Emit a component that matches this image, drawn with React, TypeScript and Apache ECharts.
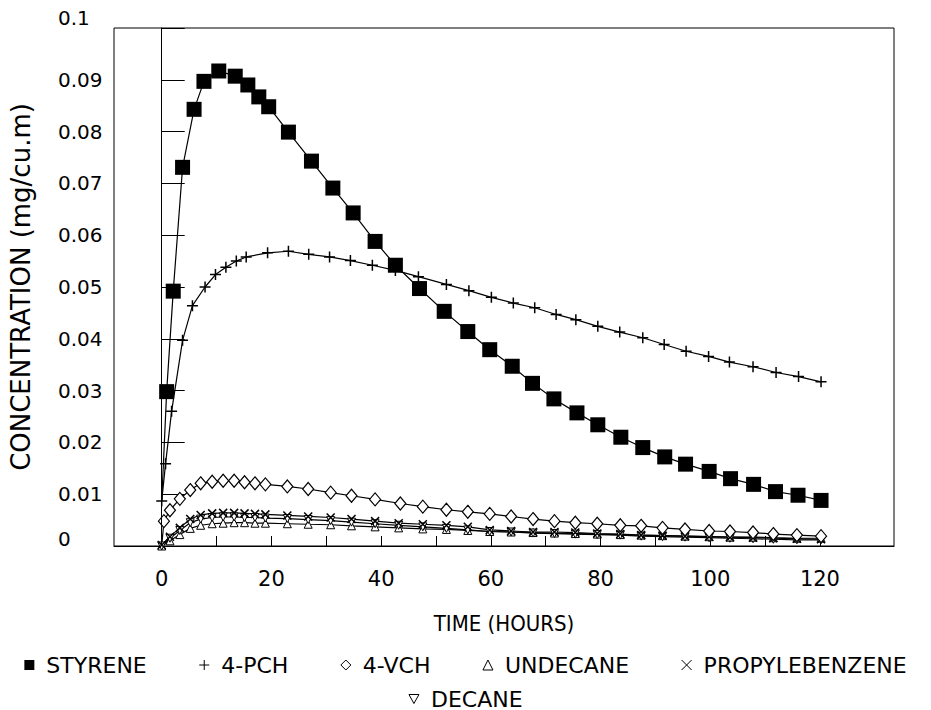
import React, { useEffect, useRef } from "react";
import * as echarts from "echarts";

// ---- data (hours, mg/cu.m) ----
const T_STYRENE = [0, 0.9, 2.1, 3.8, 5.9, 7.7, 10.4, 13.4, 15.7, 17.7, 19.5, 23.1, 27.3, 31.2, 34.9, 38.9, 42.6, 47.0, 51.5, 55.8, 59.8, 63.9, 67.6, 71.5, 75.7, 79.5, 83.7, 87.7, 91.7, 95.5, 99.8, 103.7, 107.9, 111.9, 116.0, 120.2];
const STYRENE = [0.0087, 0.0298, 0.0492, 0.0731, 0.0843, 0.0897, 0.0917, 0.0907, 0.089, 0.0867, 0.0848, 0.0799, 0.0743, 0.0691, 0.0643, 0.0588, 0.0542, 0.0497, 0.0453, 0.0414, 0.0379, 0.0347, 0.0314, 0.0284, 0.0257, 0.0234, 0.021, 0.019, 0.0172, 0.0158, 0.0144, 0.013, 0.0119, 0.0105, 0.0098, 0.0088];

const T_PCH = [0, 0.7, 1.8, 3.8, 5.6, 7.9, 9.8, 11.7, 13.6, 15.4, 19.3, 23.1, 26.8, 30.6, 34.4, 38.4, 42.6, 46.8, 51.9, 56.0, 60.1, 64.1, 68.0, 71.9, 75.5, 79.5, 83.5, 87.7, 91.6, 95.6, 99.7, 103.5, 107.8, 112.0, 116.1, 120.2];
const PCH = [0.0087, 0.0159, 0.026, 0.0397, 0.0464, 0.05, 0.0524, 0.0538, 0.055, 0.0558, 0.0566, 0.0569, 0.0563, 0.0558, 0.0551, 0.0542, 0.0532, 0.052, 0.0505, 0.0493, 0.048, 0.0469, 0.046, 0.0447, 0.0437, 0.0424, 0.0413, 0.0402, 0.0389, 0.0376, 0.0366, 0.0355, 0.0346, 0.0335, 0.0327, 0.0317];

const T_VCH = [0, 0.4, 1.5, 3.3, 5.2, 7.1, 9.2, 11.2, 13.2, 15.1, 17.0, 18.9, 22.9, 26.7, 30.8, 34.6, 38.9, 43.5, 47.6, 51.9, 55.8, 59.8, 63.7, 67.7, 71.6, 75.4, 79.4, 83.6, 87.4, 91.3, 95.4, 99.8, 103.6, 107.8, 111.5, 115.8, 120.2];
const VCH = [0, 0.0048, 0.0069, 0.0091, 0.0108, 0.0121, 0.0124, 0.0126, 0.0126, 0.0123, 0.0121, 0.0119, 0.0115, 0.011, 0.0103, 0.0097, 0.009, 0.0082, 0.0076, 0.007, 0.0066, 0.0062, 0.0057, 0.0052, 0.0048, 0.0045, 0.0043, 0.004, 0.0039, 0.0035, 0.0032, 0.0029, 0.0028, 0.0026, 0.0023, 0.0021, 0.0019];

const T_SMALL = [0, 1.5, 3.3, 5.2, 7.1, 9.2, 11.2, 13.2, 15.1, 17.0, 18.9, 22.9, 26.7, 30.8, 34.6, 38.9, 43.2, 47.6, 51.9, 55.8, 59.8, 63.7, 67.7, 71.6, 75.4, 79.4, 83.6, 87.4, 91.3, 95.4, 99.8, 103.6, 107.8, 111.5, 115.8, 120.2];
const PROPYLEBENZENE = [0.0002, 0.0018, 0.0035, 0.0052, 0.006, 0.0063, 0.0064, 0.0064, 0.0063, 0.0062, 0.0061, 0.0059, 0.0057, 0.0055, 0.0052, 0.0048, 0.0044, 0.0042, 0.004, 0.0037, 0.0031, 0.0029, 0.0027, 0.0027, 0.0026, 0.0024, 0.0023, 0.0021, 0.002, 0.0019, 0.0018, 0.0017, 0.0016, 0.0015, 0.0014, 0.0013];
const DECANE = [0, 0.0015, 0.003, 0.0045, 0.0052, 0.0055, 0.0056, 0.0056, 0.0055, 0.0055, 0.0054, 0.0053, 0.0051, 0.0049, 0.0046, 0.0043, 0.004, 0.0037, 0.0034, 0.0031, 0.0028, 0.0027, 0.0025, 0.0024, 0.0023, 0.0022, 0.0021, 0.0019, 0.0018, 0.0017, 0.0016, 0.0015, 0.0014, 0.0013, 0.0012, 0.0012];
const UNDECANE = [0, 0.001, 0.0022, 0.0034, 0.004, 0.0043, 0.0044, 0.0045, 0.0045, 0.0044, 0.0044, 0.0043, 0.0042, 0.0041, 0.0039, 0.0037, 0.0035, 0.0033, 0.0032, 0.003, 0.0028, 0.0027, 0.0026, 0.0025, 0.0024, 0.0023, 0.0022, 0.0021, 0.002, 0.0019, 0.0018, 0.0017, 0.0017, 0.0016, 0.0015, 0.0015];

const X_TICKS = [10, 20, 30, 40, 50, 60, 70, 80, 90, 100, 110, 120];
const X_LABELS = [0, 20, 40, 60, 80, 100, 120];

const LEGEND_ROW1 = ["STYRENE", "4-PCH", "4-VCH", "UNDECANE", "PROPYLEBENZENE"];
const LEGEND_ROW2 = ["DECANE"];

const PLUS = "path://M5,0L5,10M0,5L10,5";
const CROSS = "path://M0,0L10,10M10,0L0,10";

const NUM_FONT = "'DejaVu Sans', 'Liberation Sans', sans-serif";
const PLOT_FONT = "'DejaVu Sans Condensed', 'Liberation Sans Narrow', 'DejaVu Sans', sans-serif";
const LEGEND_FONT = "'DejaVu Sans', 'Liberation Sans', sans-serif";

function pairs(t: number[], v: number[]) {
  return t.map((x, i) => [x, v[i]]);
}

export default function App() {
  const ref = useRef<HTMLDivElement>(null);

  useEffect(() => {
    if (!ref.current) return;
    const chart = echarts.init(ref.current, undefined, { renderer: "svg" });

    const baseLine = { color: "#000", width: 1.2 };

    const legendItems: Record<string, any> = {
      STYRENE: { name: "STYRENE", icon: "rect", itemStyle: { color: "#000", borderWidth: 0 } },
      "4-PCH": { name: "4-PCH", icon: PLUS, itemStyle: { color: "transparent", borderColor: "#000", borderWidth: 1 } },
      "4-VCH": { name: "4-VCH", icon: "diamond", itemStyle: { color: "#fff", borderColor: "#000", borderWidth: 1 } },
      UNDECANE: { name: "UNDECANE", icon: "triangle", itemStyle: { color: "#fff", borderColor: "#000", borderWidth: 1 } },
      PROPYLEBENZENE: { name: "PROPYLEBENZENE", icon: CROSS, itemStyle: { color: "transparent", borderColor: "#000", borderWidth: 1 } },
      DECANE: { name: "DECANE", icon: "path://M0,0L10,0L5,9Z", itemStyle: { color: "#fff", borderColor: "#000", borderWidth: 1 } },
    };

    const legendCommon = {
      left: "center",
      orient: "horizontal",
      itemWidth: 10,
      itemHeight: 10,
      itemGap: 52,
      selectedMode: false,
      textStyle: { fontFamily: LEGEND_FONT, fontSize: 22, color: "#000", padding: [0, 0, 0, 7] },
    };

    const labelRich = {
      hi: { fontSize: 20, fontFamily: NUM_FONT, color: "#000", padding: [0, 0, 20, 0] },
      lo: { fontSize: 20, fontFamily: NUM_FONT, color: "#000", padding: [0, 0, 14, 0] },
    };

    const option: any = {
      animation: false,
      backgroundColor: "#fff",
      grid: { left: 113, right: 37, top: 28, bottom: 164, show: true, borderColor: "#000", borderWidth: 1, backgroundColor: "transparent" },
      legend: [
        { ...legendCommon, top: 649, data: LEGEND_ROW1.map((n) => legendItems[n]) },
        { ...legendCommon, top: 683, data: LEGEND_ROW2.map((n) => legendItems[n]) },
      ],
      xAxis: {
        type: "value",
        min: -8.7,
        max: 133.5,
        splitLine: { show: false },
        axisLine: { show: true, onZero: false, lineStyle: { color: "#000", width: 1 } },
        axisTick: { show: true, inside: true, length: 10, customValues: X_TICKS, lineStyle: { color: "#000", width: 1 } },
        axisLabel: { customValues: X_LABELS, margin: 22, fontSize: 21, fontFamily: NUM_FONT, color: "#000" },
        name: "TIME (HOURS)",
        nameLocation: "middle",
        nameGap: 66,
        nameTextStyle: { fontFamily: PLOT_FONT, fontSize: 22, color: "#000" },
      },
      yAxis: {
        type: "value",
        min: 0,
        max: 0.1,
        interval: 0.01,
        splitLine: { show: false },
        axisLine: { show: true, lineStyle: { color: "#000", width: 1 } },
        axisTick: { show: true, inside: true, length: 23, lineStyle: { color: "#000", width: 1 } },
        axisLabel: {
          align: "left",
          margin: 56,
          fontSize: 20,
          fontFamily: NUM_FONT,
          color: "#000",
          rich: labelRich,
          formatter: (v: number) => {
            if (v === 0) return "{lo|0}";
            const s = String(+v.toFixed(2));
            return v >= 0.0999 ? "{hi|" + s + "}" : s;
          },
        },
        name: "CONCENTRATION (mg/cu.m)",
        nameLocation: "middle",
        nameGap: 80,
        nameRotate: 90,
        nameTextStyle: { fontFamily: NUM_FONT, fontSize: 26, color: "#000" },
      },
      series: [
        {
          name: "UNDECANE",
          type: "line",
          data: pairs(T_SMALL, UNDECANE),
          symbol: "triangle",
          symbolSize: 8,
          showAllSymbol: true,
          lineStyle: baseLine,
          itemStyle: { color: "#fff", borderColor: "#000", borderWidth: 1 },
        },
        {
          name: "DECANE",
          type: "line",
          data: pairs(T_SMALL, DECANE),
          symbol: "triangle",
          symbolRotate: 180,
          symbolSize: 8,
          showAllSymbol: true,
          lineStyle: baseLine,
          itemStyle: { color: "#fff", borderColor: "#000", borderWidth: 1 },
        },
        {
          name: "PROPYLEBENZENE",
          type: "line",
          data: pairs(T_SMALL, PROPYLEBENZENE),
          symbol: CROSS,
          symbolSize: 8,
          showAllSymbol: true,
          lineStyle: baseLine,
          itemStyle: { color: "#000", borderColor: "#000", borderWidth: 1.5 },
        },
        {
          name: "4-VCH",
          type: "line",
          data: pairs(T_VCH, VCH).map((p, i) => (i === 0 ? { value: p, symbol: "none" } : p)),
          symbol: "diamond",
          symbolSize: [11, 13],
          showAllSymbol: true,
          lineStyle: baseLine,
          itemStyle: { color: "#fff", borderColor: "#000", borderWidth: 1.2 },
        },
        {
          name: "4-PCH",
          type: "line",
          data: pairs(T_PCH, PCH),
          symbol: PLUS,
          symbolSize: 11,
          showAllSymbol: true,
          lineStyle: baseLine,
          itemStyle: { color: "#000", borderColor: "#000", borderWidth: 1.5 },
        },
        {
          name: "STYRENE",
          type: "line",
          data: pairs(T_STYRENE, STYRENE).map((p, i) => (i === 0 ? { value: p, symbol: "none" } : p)),
          symbol: "rect",
          symbolSize: 15,
          showAllSymbol: true,
          lineStyle: baseLine,
          itemStyle: { color: "#000", borderWidth: 0 },
          markLine: {
            silent: true,
            symbol: ["none", "none"],
            label: { show: false },
            lineStyle: { color: "#000", width: 1, type: "solid" },
            data: [{ xAxis: 0 }],
          },
        },
      ],
    };

    chart.setOption(option);
    return () => chart.dispose();
  }, []);

  return (
    <div
      ref={ref}
      style={{ position: "fixed", left: 0, top: 0, width: 931, height: 710, background: "#fff" }}
    />
  );
}
